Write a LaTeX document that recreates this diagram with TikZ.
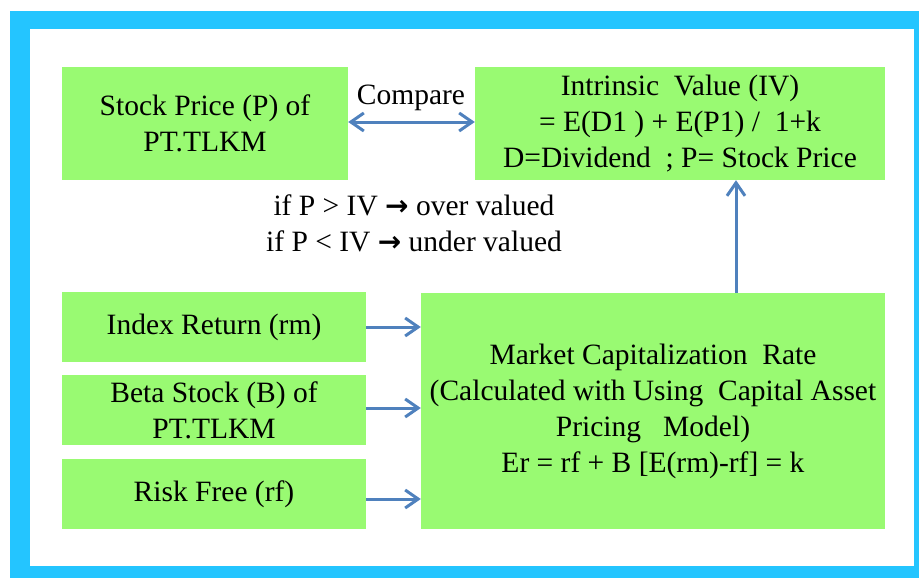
\documentclass[tikz,border=0pt]{standalone}
\usepackage{fontspec}
\setmainfont{LiberationSerif}[Extension=.ttf,UprightFont=*-Regular,BoldFont=*-Bold,ItalicFont=*-Italic]
\newfontfamily\arrowfont{DejaVu Sans}
\usetikzlibrary{arrows.meta,positioning}
\definecolor{framecyan}{RGB}{36,197,255}
\definecolor{boxgreen}{RGB}{153,250,114}
\definecolor{arrowblue}{RGB}{79,129,189}
\newcommand{\thickarrow}{{\arrowfont\bfseries\fontsize{28}{36}\selectfont →}}

\begin{document}
\begin{tikzpicture}[x=1pt,y=-1pt,
  every node/.style={font=\fontsize{29.5}{36}\selectfont},
  box/.style={fill=boxgreen,inner sep=0pt,align=center},
  flow/.style={draw=arrowblue,line width=3pt,-{Straight Barb[length=13pt,width=18pt]}},
  twoway/.style={draw=arrowblue,line width=3pt,{Straight Barb[length=13pt,width=18pt]}-{Straight Barb[length=13pt,width=18pt]}}]

\useasboundingbox (0,0) rectangle (919,578);
\fill[framecyan] (10,11) rectangle (919,578);
\fill[white] (30,29) rectangle (914,566);

\node[box,minimum width=286pt,minimum height=113pt] (stock) at (205,123.5) {Stock Price (P) of\\PT.TLKM};
\node[box,minimum width=410pt,minimum height=113pt] (iv) at (680,123.5) {Intrinsic\ \ Value (IV)\\= E(D1 ) + E(P1) / \ 1+k\\D=Dividend \ ; P= Stock Price};

\node[box,minimum width=304pt,minimum height=70pt] (index) at (214,327) {Index Return (rm)};
\node[box,minimum width=304pt,minimum height=70pt] (beta) at (214,410) {Beta Stock (B) of\\PT.TLKM};
\node[box,minimum width=304pt,minimum height=70pt] (risk) at (214,494) {Risk Free (rf)};
\node[box,minimum width=464pt,minimum height=236pt] (mcr) at (653,411) {Market Capitalization \ Rate\\(Calculated with Using \ Capital Asset\\Pricing \ \ Model)\\Er = rf + B [E(rm)-rf] = k};

\node[align=center] (rule) at (414,223) {if P {\textgreater} IV \thickarrow\ over valued\\if P {\textless} IV \thickarrow\ under valued};
\node (cmp) at (411,98) {Compare};

\draw[twoway] ([yshift=1.5pt]stock.east) -- ([yshift=1.5pt]iv.west);
\draw[flow] ([xshift=83pt]mcr.north) -- ([xshift=83pt]mcr.north |- iv.south);

\draw[flow] (index.east) -- (index.east -| mcr.west);
\draw[flow] ([yshift=2pt]beta.east) -- ([yshift=2pt]beta.east -| mcr.west);
\draw[flow] ([yshift=-5pt]risk.east) -- ([yshift=-5pt]risk.east -| mcr.west);

\end{tikzpicture}
\end{document}
